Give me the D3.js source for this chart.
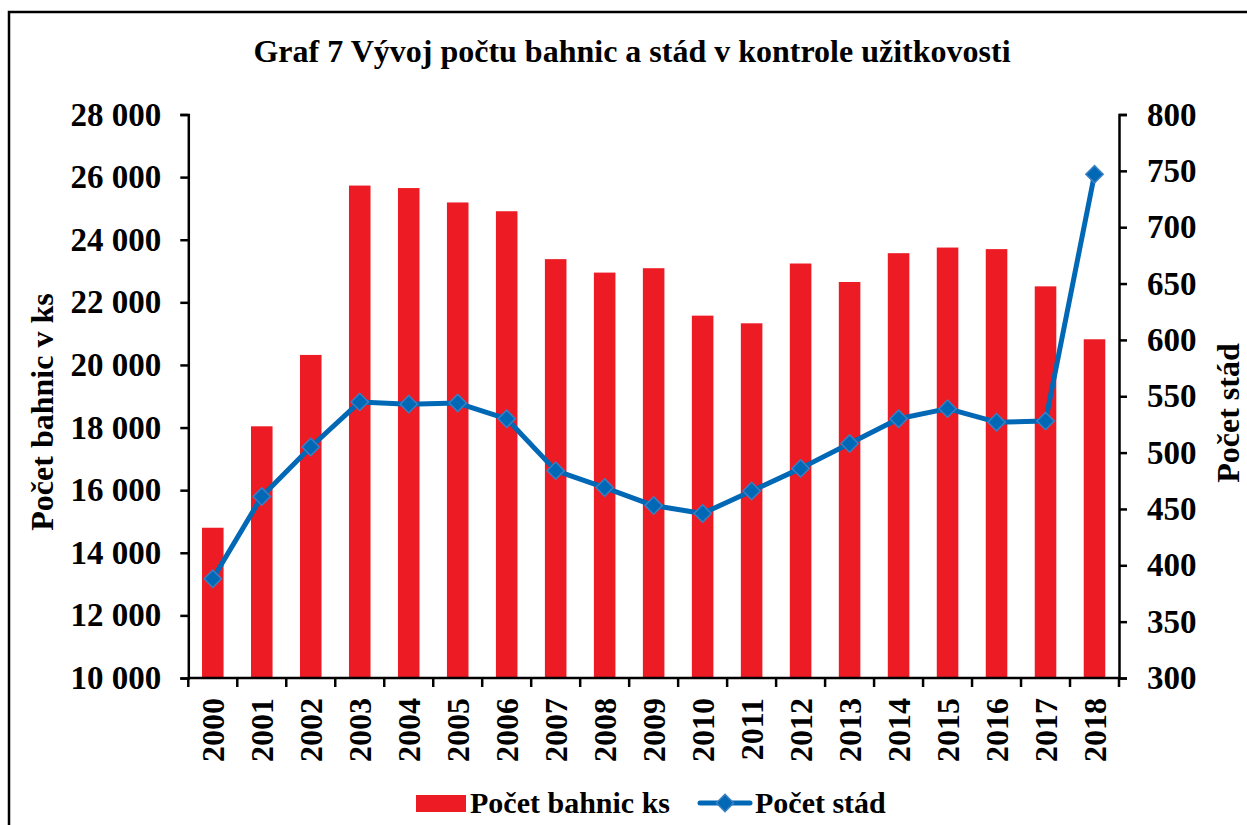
<!DOCTYPE html>
<html>
<head>
<meta charset="utf-8">
<script src="https://cdn.jsdelivr.net/npm/d3@7"></script>
<style>
  body { margin: 0; background: #fff; }
  text { font-family: "Liberation Serif", "Times New Roman", serif; font-weight: bold; fill: #000; }
</style>
</head>
<body>
<div id="chart"></div>
<script>
// data
var years = ["2000", "2001", "2002", "2003", "2004", "2005", "2006", "2007", "2008", "2009",
             "2010", "2011", "2012", "2013", "2014", "2015", "2016", "2017", "2018"];
var bahnice = [14800, 18040, 20320, 25730, 25650, 25190, 24910, 23380, 22950, 23090,
               21575, 21330, 23240, 22650, 23570, 23750, 23700, 22510, 20820];
var stada = [388, 461, 505, 545, 543, 544, 530, 484, 469, 453,
             446, 466, 486, 508, 530, 539, 527, 528, 747];
var leftTicks = [10000, 12000, 14000, 16000, 18000, 20000, 22000, 24000, 26000, 28000];
var rightTicks = [300, 350, 400, 450, 500, 550, 600, 650, 700, 750, 800];

var title = "Graf 7 Vývoj počtu bahnic a stád v kontrole užitkovosti";
var leftTitle = "Počet bahnic v ks";
var rightTitle = "Počet stád";
var legendNames = ["Počet bahnic ks", "Počet stád"];

var W = 1247, H = 825;
var margin = {top: 114.5, right: 1247 - 1119, bottom: 825 - 678, left: 188.3};
var width = W - margin.left - margin.right;
var height = H - margin.top - margin.bottom;

var red = "#ED1C24", blue = "#0068B5";

var svg = d3.select("#chart").append("svg")
    .attr("width", W)
    .attr("height", H);

// outer frame
svg.append("rect")
    .attr("x", 9).attr("y", 12)
    .attr("width", W + 20).attr("height", H + 20)
    .attr("fill", "none").attr("stroke", "#000").attr("stroke-width", 2.5);

svg.append("text")
    .attr("x", 632).attr("y", 62)
    .attr("text-anchor", "middle")
    .style("font-size", "32px")
    .text(title);

var g = svg.append("g")
    .attr("transform", "translate(" + margin.left + "," + margin.top + ")");

var x = d3.scaleBand().domain(years).range([0, width]).paddingInner(0).paddingOuter(0);
var yL = d3.scaleLinear().domain([10000, 28000]).range([height, 0]);
var yR = d3.scaleLinear().domain([300, 800]).range([height, 0]);

var fmt = function(v) { return d3.format(",")(v).replace(",", " "); };

// bars
var barW = x.bandwidth() * 0.44;
g.selectAll(".bar")
    .data(bahnice)
    .enter().append("rect")
    .attr("class", "bar")
    .attr("x", function(d, i) { return x(years[i]) + (x.bandwidth() - barW) / 2; })
    .attr("y", function(d) { return yL(d); })
    .attr("width", barW)
    .attr("height", function(d) { return height - yL(d); })
    .attr("fill", red);

// axes
var leftAxis = g.append("g")
    .call(d3.axisLeft(yL).tickValues(leftTicks).tickFormat(fmt).tickSizeOuter(0).tickSize(8).tickPadding(19));
var rightAxis = g.append("g")
    .attr("transform", "translate(" + width + ",0)")
    .call(d3.axisRight(yR).tickValues(rightTicks).tickSizeOuter(0).tickSize(8).tickPadding(20));

[leftAxis, rightAxis].forEach(function(a) {
    a.selectAll("path, line").attr("stroke", "#000").attr("stroke-width", 2.5);
    a.selectAll("text").style("font-size", "33px").attr("font-family", null);
});

// x axis: line, ticks at category boundaries, rotated labels
var bottom = g.append("g").attr("transform", "translate(0," + height + ")");
bottom.append("line")
    .attr("x1", 0).attr("x2", width)
    .attr("stroke", "#000").attr("stroke-width", 2.5);
bottom.selectAll(".xtick")
    .data(years.concat(["end"]))
    .enter().append("line")
    .attr("x1", function(d, i) { return i * x.step(); })
    .attr("x2", function(d, i) { return i * x.step(); })
    .attr("y1", 0).attr("y2", 9)
    .attr("stroke", "#000").attr("stroke-width", 2.5);
bottom.selectAll(".xlabel")
    .data(years)
    .enter().append("text")
    .attr("transform", function(d) {
        return "translate(" + (x(d) + x.bandwidth() / 2) + ",20) rotate(-90)";
    })
    .attr("text-anchor", "end")
    .attr("dy", "0.35em")
    .style("font-size", "32px")
    .text(function(d) { return d; });

// line + diamond markers
var line = d3.line()
    .x(function(d, i) { return x(years[i]) + x.bandwidth() / 2; })
    .y(function(d) { return yR(d); })
    .curve(d3.curveLinear);

g.append("path")
    .datum(stada)
    .attr("d", line)
    .attr("fill", "none")
    .attr("stroke", blue)
    .attr("stroke-width", 5)
    .attr("stroke-linejoin", "round");

var diamond = d3.symbol().type(d3.symbolSquare).size(150);
g.selectAll(".pt")
    .data(stada)
    .enter().append("path")
    .attr("class", "pt")
    .attr("d", diamond)
    .attr("transform", function(d, i) {
        return "translate(" + (x(years[i]) + x.bandwidth() / 2) + "," + yR(d) + ") rotate(45)";
    })
    .attr("fill", blue)
    .attr("stroke", "#3A7FC4")
    .attr("stroke-width", 1.5);

// axis titles
svg.append("text")
    .attr("transform", "translate(42,412) rotate(-90)")
    .attr("text-anchor", "middle")
    .attr("dy", "0.35em")
    .style("font-size", "32px")
    .text(leftTitle);
svg.append("text")
    .attr("transform", "translate(1228,413) rotate(-90)")
    .attr("text-anchor", "middle")
    .attr("dy", "0.35em")
    .style("font-size", "32px")
    .text(rightTitle);

// legend
var leg = svg.append("g");
leg.append("rect")
    .attr("x", 416).attr("y", 795).attr("width", 50).attr("height", 17)
    .attr("fill", red);
leg.append("text")
    .attr("x", 470).attr("y", 813)
    .style("font-size", "30px")
    .text(legendNames[0]);
leg.append("line")
    .attr("x1", 700).attr("x2", 750).attr("y1", 803).attr("y2", 803)
    .attr("stroke", blue).attr("stroke-width", 5).attr("stroke-linecap", "round");
leg.append("path")
    .attr("d", diamond)
    .attr("transform", "translate(725,803) rotate(45)")
    .attr("fill", blue)
    .attr("stroke", "#3A7FC4")
    .attr("stroke-width", 1.5);
leg.append("text")
    .attr("x", 755).attr("y", 813)
    .style("font-size", "30px")
    .text(legendNames[1]);
</script>
</body>
</html>
